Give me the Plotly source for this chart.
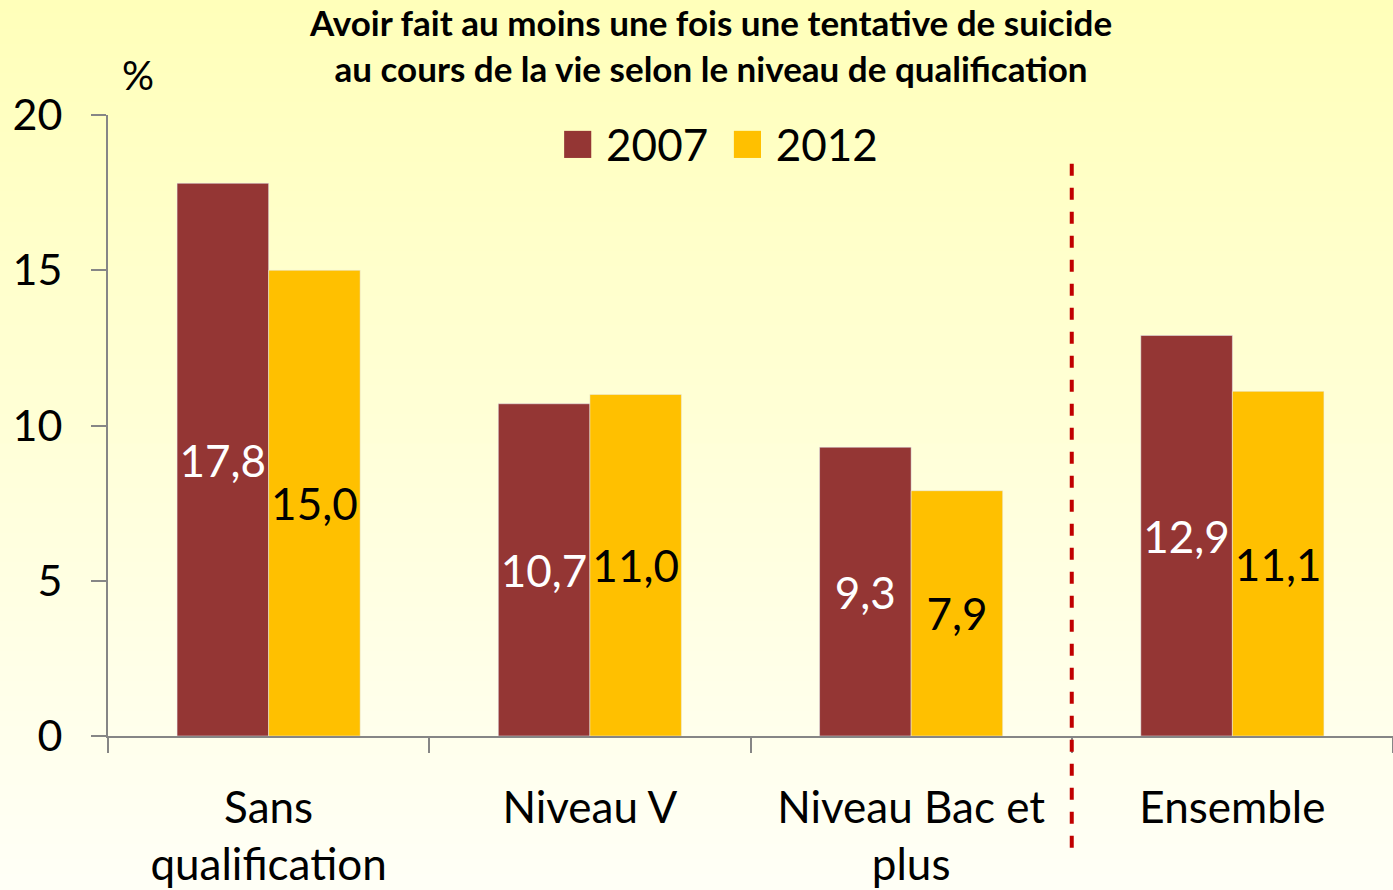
import plotly.graph_objects as go

categories = ["Sans<br>qualification", "Niveau V", "Niveau Bac et<br>plus", "Ensemble"]
years = ["2007", "2012"]
values_2007 = [17.8, 10.7, 9.3, 12.9]
values_2012 = [15.0, 11.0, 7.9, 11.1]
y_ticks = [0, 5, 10, 15, 20]

col_2007 = "#943634"
col_2012 = "#FFC000"
FONT = "Lato"
W, H = 1393, 890
ML, MR, MT, MB = 108, 0, 115, 154

fig = go.Figure()
fig.add_trace(go.Bar(
    x=categories, y=values_2007, name=years[0], marker_color=col_2007,
    texttemplate="%{y:.1f}", textposition="inside", insidetextanchor="middle",
    textangle=0, constraintext="none",
    textfont=dict(family=FONT, size=44, color="white"), showlegend=False))
fig.add_trace(go.Bar(
    x=categories, y=values_2012, name=years[1], marker_color=col_2012,
    texttemplate="%{y:.1f}", textposition="inside", insidetextanchor="middle",
    textangle=0, constraintext="none",
    textfont=dict(family=FONT, size=44, color="black"), showlegend=False))

# background gradient (top light yellow -> bottom near white)
shapes = []
n = 60
top = (255, 255, 185)
bot = (255, 255, 247)
ph = H - MT - MB
y_top = (H - MB) / ph  # paper y of figure top
y_bot = -MB / ph
for i in range(n):
    t = (i + 0.5) / n
    c = tuple(round(top[k] + (bot[k] - top[k]) * t) for k in range(3))
    y1 = y_top - (y_top - y_bot) * i / n
    y0 = y_top - (y_top - y_bot) * (i + 1) / n
    shapes.append(dict(type="rect", xref="paper", yref="paper",
                       x0=-0.2, x1=1.05, y0=y0 - 0.002, y1=y1 + 0.002,
                       fillcolor="rgb(%d,%d,%d)" % c, line=dict(width=0),
                       layer="below"))
# red dashed separator between groups
shapes.append(dict(type="line", xref="x", yref="paper", x0=2.5, x1=2.5,
                   y0=-0.18, y1=0.932, line=dict(color="#C00000", width=4, dash="dash"),
                   layer="above"))

annotations = [
    dict(text="<b>Avoir fait au moins une fois une tentative de suicide<br>au cours de la vie selon le niveau de qualification</b>",
         xref="paper", yref="paper", x=0.4685, y=1.112, xanchor="center", yanchor="middle",
         showarrow=False, font=dict(family=FONT, size=35, color="black")),
    dict(text="%", xref="paper", yref="paper", x=0.009, y=1.107,
         showarrow=False, font=dict(family=FONT, size=40, color="black")),
    dict(text="<span style='color:%s;font-size:56px'>■</span> %s  <span style='color:%s;font-size:56px'>■</span> %s"
         % (col_2007, years[0], col_2012, years[1]),
         xref="paper", yref="paper", x=0.476, y=0.961, yanchor="middle", showarrow=False,
         font=dict(family=FONT, size=44, color="black")),
]

fig.update_layout(
    width=W, height=H,
    margin=dict(l=ML, r=MR, t=MT, b=MB),
    paper_bgcolor="rgb(255,255,247)", plot_bgcolor="rgba(0,0,0,0)",
    barmode="group", bargap=0.43, bargroupgap=0,
    separators=", ",
    shapes=shapes, annotations=annotations,
    font=dict(family=FONT, color="black"),
)
fig.update_yaxes(range=[0, 20], tickvals=y_ticks, showgrid=False, zeroline=False,
                 showline=True, linecolor="#868686", linewidth=2, automargin=False,
                 ticks="outside", ticklen=15, tickcolor="#868686", tickwidth=2,
                 ticklabelstandoff=20, tickfont=dict(family=FONT, size=43, color="black"))
fig.update_xaxes(showgrid=False, showline=True, linecolor="#868686", linewidth=2,
                 automargin=False,
                 ticks="outside", tickson="boundaries", ticklen=15,
                 tickcolor="#868686", tickwidth=2, ticklabelstandoff=32,
                 tickfont=dict(family=FONT, size=44, color="black"))

fig.write_html("out.html", config={"displayModeBar": False},
               post_script="document.body.style.margin='0';")
